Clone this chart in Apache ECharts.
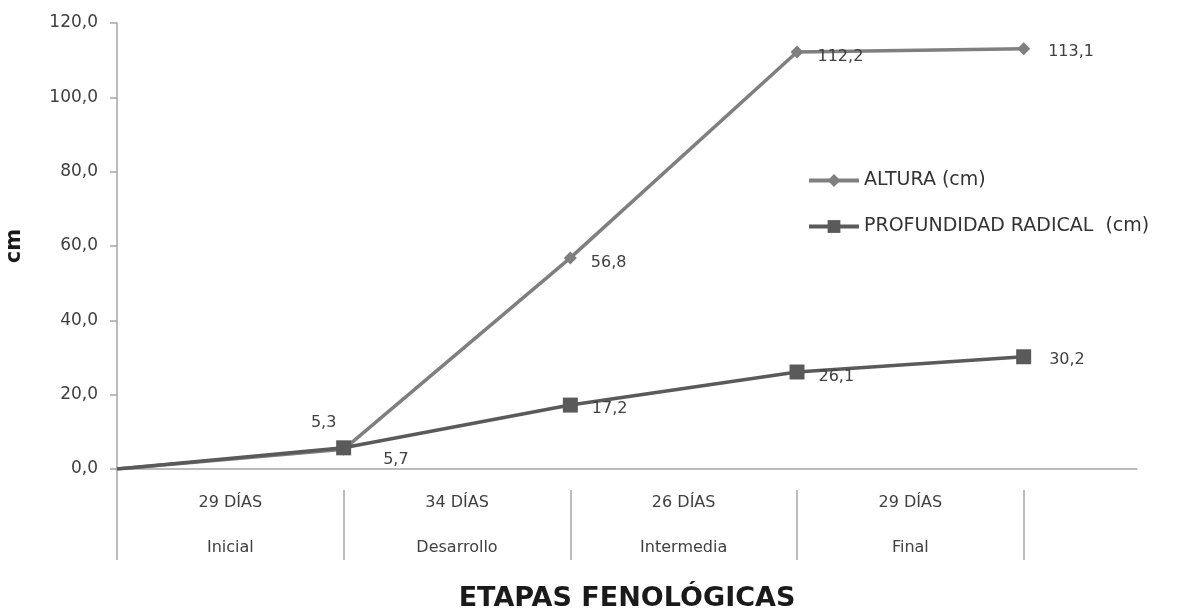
<!DOCTYPE html>
<html>
<head>
<meta charset="utf-8">
<script src="https://cdn.jsdelivr.net/npm/echarts@6/dist/echarts.min.js"></script>
<style>html,body{margin:0;padding:0;background:#fff}#c{width:1185px;height:611px}</style>
</head>
<body>
<div id="c"></div>
<script>
var stagePositions = [0, 1, 2, 3, 4];
var stageDays = ['29 DÍAS', '34 DÍAS', '26 DÍAS', '29 DÍAS'];
var stageNames = ['Inicial', 'Desarrollo', 'Intermedia', 'Final'];
var alturaValues = [0, 5.3, 56.8, 112.2, 113.1];
var profundidadValues = [0, 5.7, 17.2, 26.1, 30.2];
var yTicks = [0, 20, 40, 60, 80, 100, 120];

var FONT = 'DejaVu Sans';
function fmt(v) { return v.toFixed(1).replace('.', ','); }

var alturaLabels = [null,
  {position: 'top', distance: 8, offset: [-20, -4]},
  {position: 'right', distance: 14, offset: [0, 5]},
  {position: 'right', distance: 14, offset: [0, 5]},
  {position: 'right', distance: 18, offset: [0, 3]}];
var profLabels = [null,
  {position: 'right', distance: 32, offset: [0, 12]},
  {position: 'right', distance: 14, offset: [0, 4]},
  {position: 'right', distance: 14, offset: [0, 5]},
  {position: 'right', distance: 18, offset: [0, 3]}];

function build(values, labels) {
  return values.map(function (v, i) {
    var item = {value: [stagePositions[i], v]};
    if (i === 0) {
      item.symbol = 'none';
      item.label = {show: false};
    } else {
      item.label = labels[i];
    }
    return item;
  });
}

var chart = echarts.init(document.getElementById('c'));
chart.setOption({
  animation: false,
  grid: {left: 117, right: 48, top: 23, bottom: 142, outerBoundsMode: 'none', containLabel: false},
  legend: {
    orient: 'vertical', left: 802, top: 166, itemWidth: 50, itemHeight: 16, itemGap: 27,
    textStyle: {fontFamily: FONT, fontSize: 19, color: '#333'},
    lineStyle: {width: 4},
    data: ['ALTURA (cm)', 'PROFUNDIDAD RADICAL  (cm)']
  },
  xAxis: [{
    type: 'value', min: 0, max: 4.5, position: 'bottom',
    axisLine: {show: true, lineStyle: {color: '#a6a6a6', width: 1.5}},
    axisTick: {show: true, customValues: [0], length: 91, lineStyle: {color: '#a6a6a6', width: 1.5}},
    axisLabel: {show: false},
    splitLine: {show: false},
    name: 'ETAPAS FENOLÓGICAS', nameLocation: 'middle', nameGap: 116,
    nameTextStyle: {fontFamily: FONT, fontWeight: 'bold', fontSize: 27, color: '#1a1a1a'}
  }, {
    type: 'value', min: 0, max: 4.5, position: 'bottom', offset: 21,
    axisLine: {show: false},
    axisTick: {show: true, customValues: [1, 2, 3, 4], length: 70, lineStyle: {color: '#a6a6a6', width: 1.5}},
    axisLabel: {
      show: true, customValues: [0.5, 1.5, 2.5, 3.5], margin: 3,
      formatter: function (v) {
        var i = Math.floor(v);
        return '{a|' + stageDays[i] + '}\n{b|' + stageNames[i] + '}';
      },
      rich: {
        a: {fontFamily: FONT, fontSize: 16, color: '#404040', lineHeight: 20},
        b: {fontFamily: FONT, fontSize: 16, color: '#404040', lineHeight: 70}
      }
    },
    splitLine: {show: false}
  }],
  yAxis: {
    type: 'value', min: 0, max: 120, interval: 20,
    axisLine: {show: true, lineStyle: {color: '#a6a6a6', width: 1.5}},
    axisTick: {show: true, length: 7, lineStyle: {color: '#a6a6a6', width: 1.5}},
    axisLabel: {margin: 19, fontFamily: FONT, fontSize: 17, color: '#404040',
      formatter: function (v) { return fmt(v); }},
    splitLine: {show: false},
    name: 'cm', nameLocation: 'middle', nameRotate: 90, nameGap: 92,
    nameTextStyle: {fontFamily: FONT, fontWeight: 'bold', fontSize: 21, color: '#1a1a1a'}
  },
  series: [{
    name: 'ALTURA (cm)', type: 'line', xAxisIndex: 0,
    data: build(alturaValues, alturaLabels),
    symbol: 'diamond', symbolSize: 13, showAllSymbol: true,
    lineStyle: {color: '#7f7f7f', width: 3.5},
    itemStyle: {color: '#7f7f7f'},
    label: {show: true, fontFamily: FONT, fontSize: 16, color: '#404040',
      formatter: function (p) { return fmt(p.value[1]); }},
    z: 2
  }, {
    name: 'PROFUNDIDAD RADICAL  (cm)', type: 'line', xAxisIndex: 0,
    data: build(profundidadValues, profLabels),
    symbol: 'rect', symbolSize: 15, showAllSymbol: true,
    lineStyle: {color: '#5a5a5a', width: 3.5},
    itemStyle: {color: '#5a5a5a'},
    label: {show: true, fontFamily: FONT, fontSize: 16, color: '#404040',
      formatter: function (p) { return fmt(p.value[1]); }},
    z: 3
  }]
});
</script>
</body>
</html>
